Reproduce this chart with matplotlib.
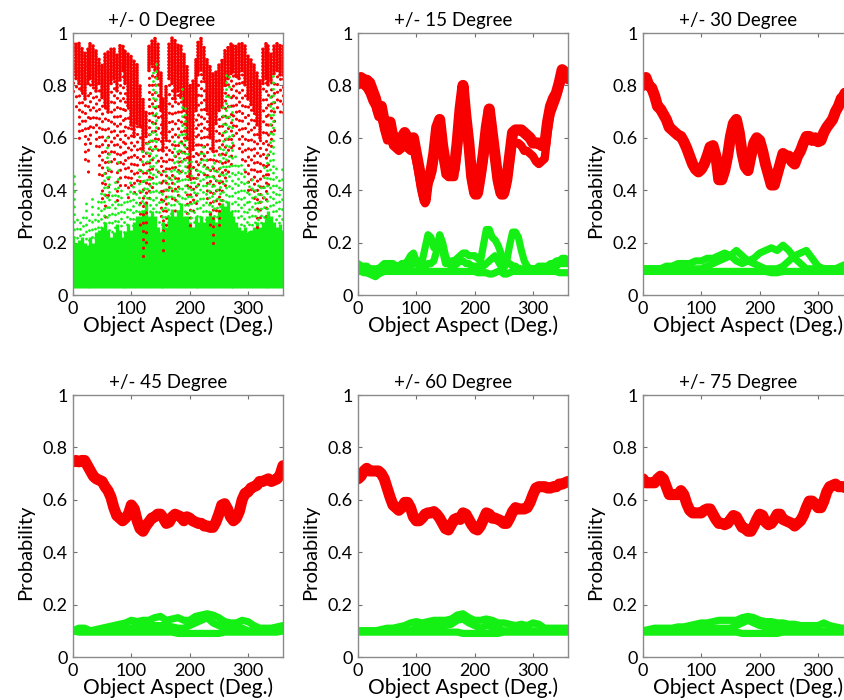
import numpy as np
import matplotlib
matplotlib.use("Agg")
import matplotlib.pyplot as plt

plt.rcParams['font.family'] = ['Lato', 'DejaVu Sans']

# aspect grids (degrees)
deg5 = np.arange(0, 361, 5)
deg10 = np.arange(0, 361, 10)

titles = ['+/- 0 Degree', '+/- 15 Degree', '+/- 30 Degree',
          '+/- 45 Degree', '+/- 60 Degree', '+/- 75 Degree']

# ---- +/- 0 degree: scattered trials, read as column extents every 5 deg ----
p0_red_top = [0.96, 0.97, 0.96, 0.95, 0.93, 0.95, 0.96, 0.95, 0.94, 0.90, 0.88, 0.92, 0.93,
              0.95, 0.94, 0.92, 0.96, 0.95, 0.94, 0.93, 0.92, 0.90, 0.88, 0.80, 0.75, 0.70,
              0.95, 0.98, 0.98, 0.96, 0.85, 0.75, 0.80, 0.97, 0.98, 0.98, 0.96, 0.95, 0.92,
              0.88, 0.80, 0.82, 0.90, 0.97, 0.98, 0.95, 0.90, 0.88, 0.85, 0.86, 0.88, 0.90,
              0.94, 0.95, 0.96, 0.96, 0.95, 0.96, 0.96, 0.95, 0.92, 0.90, 0.88, 0.85, 0.82,
              0.95, 0.96, 0.95, 0.92, 0.95, 0.96, 0.96, 0.95]
p0_red_dense = [0.84, 0.82, 0.80, 0.78, 0.75, 0.80, 0.82, 0.80, 0.78, 0.80, 0.75, 0.72, 0.70,
                0.80, 0.82, 0.78, 0.82, 0.85, 0.80, 0.72, 0.65, 0.60, 0.65, 0.65, 0.55, 0.60,
                0.85, 0.88, 0.86, 0.82, 0.70, 0.55, 0.60, 0.82, 0.80, 0.75, 0.78, 0.75, 0.70,
                0.60, 0.45, 0.55, 0.70, 0.84, 0.86, 0.82, 0.70, 0.60, 0.55, 0.65, 0.70, 0.72,
                0.80, 0.82, 0.84, 0.85, 0.84, 0.82, 0.85, 0.80, 0.75, 0.72, 0.70, 0.65, 0.60,
                0.80, 0.82, 0.80, 0.82, 0.84, 0.85, 0.84, 0.84]
p0_red_low = [0.78, 0.70, 0.58, 0.62, 0.50, 0.45, 0.58, 0.62, 0.55, 0.45, 0.35, 0.28, 0.38,
              0.45, 0.50, 0.35, 0.40, 0.48, 0.42, 0.35, 0.40, 0.38, 0.42, 0.25, 0.15, 0.18,
              0.35, 0.40, 0.55, 0.45, 0.30, 0.15, 0.25, 0.40, 0.35, 0.30, 0.38, 0.45, 0.50,
              0.30, 0.25, 0.30, 0.35, 0.40, 0.50, 0.45, 0.35, 0.25, 0.20, 0.30, 0.25, 0.35,
              0.40, 0.45, 0.50, 0.55, 0.60, 0.55, 0.50, 0.45, 0.40, 0.38, 0.35, 0.25, 0.28,
              0.35, 0.30, 0.40, 0.55, 0.62, 0.70, 0.68, 0.70]
p0_green_floor = 0.025
p0_green_top = [0.22, 0.20, 0.21, 0.22, 0.20, 0.19, 0.22, 0.20, 0.24, 0.25, 0.26, 0.28, 0.25,
                0.22, 0.24, 0.27, 0.25, 0.22, 0.24, 0.27, 0.25, 0.28, 0.30, 0.30, 0.32, 0.35,
                0.30, 0.32, 0.30, 0.26, 0.24, 0.28, 0.26, 0.30, 0.33, 0.30, 0.32, 0.35, 0.30,
                0.30, 0.28, 0.26, 0.30, 0.28, 0.30, 0.28, 0.30, 0.32, 0.30, 0.28, 0.32, 0.35,
                0.34, 0.36, 0.32, 0.30, 0.28, 0.26, 0.25, 0.26, 0.24, 0.25, 0.26, 0.28, 0.26,
                0.28, 0.30, 0.32, 0.30, 0.28, 0.26, 0.27, 0.25]
p0_green_spike = [0.48, 0.30, 0.28, 0.32, 0.35, 0.30, 0.38, 0.30, 0.36, 0.40, 0.48, 0.62, 0.55,
                  0.40, 0.45, 0.52, 0.42, 0.38, 0.40, 0.45, 0.42, 0.40, 0.48, 0.55, 0.45, 0.60,
                  0.62, 0.86, 0.90, 0.50, 0.40, 0.48, 0.45, 0.50, 0.60, 0.55, 0.62, 0.80, 0.72,
                  0.55, 0.52, 0.45, 0.48, 0.55, 0.58, 0.52, 0.50, 0.52, 0.55, 0.50, 0.58, 0.72,
                  0.84, 0.86, 0.70, 0.55, 0.50, 0.52, 0.48, 0.45, 0.42, 0.45, 0.40, 0.45, 0.42,
                  0.50, 0.55, 0.78, 0.84, 0.50, 0.45, 0.48, 0.40]

# ---- +/- 15 degree ----
p15_red = [0.815, 0.83, 0.82, 0.82, 0.81, 0.78, 0.75, 0.70, 0.72, 0.66, 0.62, 0.66, 0.60,
           0.60, 0.59, 0.60, 0.62, 0.60, 0.58, 0.60, 0.54, 0.48, 0.41, 0.36, 0.45, 0.47,
           0.54, 0.64, 0.67, 0.57, 0.50, 0.49, 0.48, 0.48, 0.58, 0.71, 0.80, 0.68, 0.58,
           0.45, 0.39, 0.39, 0.46, 0.54, 0.64, 0.71, 0.62, 0.53, 0.44, 0.39, 0.39, 0.44,
           0.53, 0.62, 0.63, 0.63, 0.63, 0.62, 0.61, 0.60, 0.58, 0.58, 0.58, 0.57, 0.57,
           0.66, 0.72, 0.75, 0.77, 0.81, 0.86, 0.85, 0.84]
p15_red2 = [0.80, 0.81, 0.80, 0.79, 0.77, 0.74, 0.72, 0.68, 0.68, 0.63, 0.59, 0.62, 0.57,
            0.56, 0.55, 0.56, 0.57, 0.56, 0.55, 0.56, 0.51, 0.45, 0.39, 0.35, 0.42, 0.45,
            0.51, 0.60, 0.63, 0.53, 0.46, 0.45, 0.45, 0.45, 0.54, 0.67, 0.76, 0.66, 0.55,
            0.43, 0.38, 0.38, 0.44, 0.51, 0.61, 0.68, 0.60, 0.51, 0.42, 0.38, 0.38, 0.42,
            0.50, 0.58, 0.58, 0.58, 0.57, 0.55, 0.55, 0.54, 0.53, 0.51, 0.50, 0.51, 0.52,
            0.62, 0.69, 0.72, 0.75, 0.79, 0.83, 0.83, 0.82]
p15_g1 = [0.09, 0.09, 0.085, 0.085, 0.08, 0.075, 0.07, 0.08, 0.085, 0.09, 0.09, 0.09, 0.09,
          0.09, 0.09, 0.09, 0.09, 0.09, 0.09, 0.09, 0.09, 0.09, 0.09, 0.09, 0.09, 0.09,
          0.09, 0.09, 0.09, 0.09, 0.09, 0.09, 0.09, 0.09, 0.09, 0.09, 0.09, 0.09, 0.09,
          0.09, 0.09, 0.085, 0.085, 0.085, 0.085, 0.08, 0.08, 0.085, 0.09, 0.09, 0.08, 0.08,
          0.085, 0.09, 0.09, 0.09, 0.09, 0.09, 0.09, 0.09, 0.09, 0.09, 0.09, 0.09, 0.09,
          0.09, 0.09, 0.09, 0.09, 0.085, 0.085, 0.085, 0.085]
p15_g2 = [0.12, 0.11, 0.11, 0.11, 0.10, 0.10, 0.10, 0.10, 0.11, 0.12, 0.12, 0.12, 0.12,
          0.11, 0.11, 0.12, 0.12, 0.13, 0.15, 0.16, 0.13, 0.12, 0.13, 0.18, 0.23, 0.22,
          0.18, 0.19, 0.22, 0.17, 0.12, 0.12, 0.13, 0.13, 0.14, 0.15, 0.16, 0.16, 0.15,
          0.15, 0.15, 0.14, 0.13, 0.19, 0.25, 0.25, 0.22, 0.21, 0.19, 0.16, 0.13, 0.12,
          0.12, 0.11, 0.11, 0.10, 0.10, 0.10, 0.10, 0.10, 0.10, 0.10, 0.10, 0.10, 0.10,
          0.11, 0.12, 0.12, 0.13, 0.13, 0.14, 0.14, 0.13]
p15_g3 = [0.10, 0.10, 0.10, 0.10, 0.10, 0.09, 0.09, 0.09, 0.10, 0.10, 0.10, 0.11, 0.11,
          0.11, 0.10, 0.10, 0.10, 0.10, 0.11, 0.12, 0.12, 0.11, 0.11, 0.11, 0.12, 0.12,
          0.13, 0.17, 0.23, 0.20, 0.15, 0.12, 0.11, 0.11, 0.12, 0.13, 0.13, 0.12, 0.12,
          0.11, 0.11, 0.11, 0.11, 0.11, 0.12, 0.13, 0.14, 0.15, 0.13, 0.11, 0.10, 0.13,
          0.19, 0.24, 0.24, 0.22, 0.17, 0.13, 0.11, 0.10, 0.10, 0.10, 0.11, 0.11, 0.11,
          0.11, 0.11, 0.11, 0.11, 0.12, 0.12, 0.12, 0.12]

# ---- +/- 30 degree ----
p30_red = [0.80, 0.83, 0.80, 0.79, 0.76, 0.72, 0.71, 0.69, 0.67, 0.64, 0.63, 0.62, 0.61,
           0.605, 0.585, 0.56, 0.53, 0.50, 0.48, 0.47, 0.48, 0.50, 0.53, 0.565, 0.57, 0.53,
           0.44, 0.44, 0.475, 0.53, 0.605, 0.655, 0.67, 0.62, 0.54, 0.49, 0.475, 0.53, 0.58,
           0.60, 0.59, 0.55, 0.50, 0.46, 0.42, 0.42, 0.46, 0.50, 0.54, 0.53, 0.53, 0.51,
           0.50, 0.53, 0.55, 0.58, 0.605, 0.605, 0.59, 0.60, 0.585, 0.59, 0.62, 0.64, 0.655,
           0.67, 0.70, 0.72, 0.75, 0.76, 0.80, 0.81, 0.82]
p30_g1 = [0.09, 0.09, 0.09, 0.09, 0.09, 0.09, 0.09, 0.09, 0.09, 0.09, 0.09, 0.09, 0.09,
          0.09, 0.09, 0.09, 0.09, 0.09, 0.09, 0.09, 0.09, 0.09, 0.085, 0.085, 0.09, 0.09,
          0.09, 0.09, 0.09, 0.09, 0.09, 0.09, 0.09, 0.09, 0.09, 0.09, 0.09]
p30_g2 = [0.10, 0.10, 0.10, 0.10, 0.11, 0.11, 0.12, 0.12, 0.12, 0.13, 0.13, 0.14, 0.14,
          0.15, 0.16, 0.15, 0.17, 0.15, 0.13, 0.12, 0.11, 0.10, 0.10, 0.10, 0.11, 0.13,
          0.15, 0.16, 0.17, 0.14, 0.11, 0.10, 0.10, 0.10, 0.11, 0.12, 0.12]
p30_g3 = [0.10, 0.10, 0.10, 0.10, 0.10, 0.10, 0.10, 0.10, 0.10, 0.10, 0.10, 0.11, 0.12,
          0.13, 0.14, 0.15, 0.13, 0.12, 0.13, 0.14, 0.16, 0.17, 0.18, 0.17, 0.19, 0.17,
          0.14, 0.12, 0.10, 0.10, 0.10, 0.10, 0.10, 0.10, 0.10, 0.11, 0.11]

# ---- +/- 45 degree ----
p45_red = [0.745, 0.75, 0.745, 0.75, 0.75, 0.73, 0.71, 0.69, 0.68, 0.675, 0.67, 0.65, 0.635,
           0.61, 0.57, 0.54, 0.53, 0.52, 0.53, 0.545, 0.58, 0.565, 0.52, 0.49, 0.48, 0.50,
           0.515, 0.53, 0.535, 0.545, 0.545, 0.53, 0.51, 0.515, 0.535, 0.545, 0.54, 0.535, 0.52,
           0.535, 0.53, 0.52, 0.515, 0.51, 0.51, 0.50, 0.50, 0.495, 0.495, 0.515, 0.545, 0.58,
           0.585, 0.565, 0.535, 0.52, 0.53, 0.555, 0.60, 0.625, 0.63, 0.645, 0.65, 0.655, 0.67,
           0.67, 0.675, 0.68, 0.67, 0.675, 0.68, 0.695, 0.73]
p45_g1 = [0.10, 0.095, 0.095, 0.095, 0.095, 0.095, 0.095, 0.095, 0.095, 0.095, 0.095, 0.095,
          0.095, 0.095, 0.095, 0.095, 0.095, 0.095, 0.09, 0.09, 0.09, 0.09, 0.09, 0.09, 0.09,
          0.09, 0.095, 0.095, 0.095, 0.095, 0.095, 0.095, 0.095, 0.095, 0.095, 0.095, 0.10]
p45_g2 = [0.10, 0.11, 0.11, 0.10, 0.105, 0.11, 0.115, 0.12, 0.125, 0.13, 0.14, 0.135, 0.14,
          0.14, 0.15, 0.155, 0.14, 0.145, 0.15, 0.14, 0.14, 0.155, 0.16, 0.165, 0.16, 0.15,
          0.135, 0.13, 0.13, 0.14, 0.135, 0.12, 0.11, 0.11, 0.11, 0.115, 0.12]
p45_g3 = [0.10, 0.10, 0.10, 0.10, 0.10, 0.10, 0.10, 0.10, 0.10, 0.105, 0.11, 0.12, 0.12,
          0.12, 0.12, 0.12, 0.12, 0.115, 0.11, 0.11, 0.12, 0.13, 0.14, 0.15, 0.13, 0.12,
          0.11, 0.115, 0.12, 0.11, 0.10, 0.10, 0.10, 0.10, 0.10, 0.10, 0.10]

# ---- +/- 60 degree ----
p60_red = [0.68, 0.69, 0.71, 0.72, 0.71, 0.71, 0.71, 0.71, 0.70, 0.68, 0.645, 0.61, 0.58,
           0.57, 0.56, 0.57, 0.59, 0.59, 0.57, 0.535, 0.52, 0.52, 0.53, 0.545, 0.55, 0.55,
           0.555, 0.545, 0.53, 0.51, 0.49, 0.485, 0.505, 0.525, 0.53, 0.525, 0.55, 0.545, 0.525,
           0.505, 0.49, 0.485, 0.50, 0.525, 0.55, 0.545, 0.53, 0.53, 0.525, 0.52, 0.51, 0.51,
           0.53, 0.555, 0.57, 0.565, 0.565, 0.565, 0.57, 0.59, 0.62, 0.645, 0.65, 0.65, 0.65,
           0.645, 0.645, 0.65, 0.65, 0.66, 0.66, 0.665, 0.67]
p60_g1 = [0.095, 0.095, 0.095, 0.095, 0.095, 0.095, 0.095, 0.095, 0.095, 0.095, 0.095, 0.095,
          0.095, 0.095, 0.095, 0.095, 0.095, 0.095, 0.09, 0.09, 0.09, 0.09, 0.09, 0.09, 0.09,
          0.095, 0.095, 0.095, 0.095, 0.095, 0.095, 0.095, 0.095, 0.095, 0.095, 0.095, 0.095]
p60_g2 = [0.10, 0.10, 0.10, 0.10, 0.105, 0.11, 0.11, 0.115, 0.12, 0.13, 0.135, 0.13, 0.135,
          0.14, 0.14, 0.14, 0.145, 0.16, 0.165, 0.15, 0.14, 0.14, 0.145, 0.14, 0.13, 0.13,
          0.125, 0.12, 0.125, 0.12, 0.13, 0.125, 0.11, 0.11, 0.11, 0.11, 0.11]
p60_g3 = [0.10, 0.10, 0.10, 0.10, 0.10, 0.10, 0.10, 0.10, 0.10, 0.10, 0.11, 0.115, 0.115,
          0.115, 0.12, 0.12, 0.125, 0.14, 0.145, 0.13, 0.12, 0.11, 0.12, 0.115, 0.11, 0.10,
          0.10, 0.10, 0.10, 0.10, 0.10, 0.10, 0.10, 0.10, 0.10, 0.10, 0.10]

# ---- +/- 75 degree ----
p75_red = [0.68, 0.665, 0.665, 0.665, 0.665, 0.68, 0.69, 0.68, 0.65, 0.62, 0.62, 0.62, 0.62,
           0.635, 0.62, 0.585, 0.56, 0.55, 0.55, 0.55, 0.55, 0.56, 0.565, 0.565, 0.545, 0.525,
           0.51, 0.51, 0.505, 0.51, 0.525, 0.54, 0.535, 0.515, 0.495, 0.49, 0.48, 0.48, 0.50,
           0.525, 0.545, 0.54, 0.515, 0.505, 0.51, 0.525, 0.545, 0.545, 0.525, 0.52, 0.515, 0.51,
           0.50, 0.51, 0.52, 0.54, 0.57, 0.595, 0.595, 0.585, 0.57, 0.57, 0.595, 0.63, 0.65,
           0.655, 0.66, 0.65, 0.65, 0.65, 0.64, 0.64, 0.64]
p75_g1 = [0.095, 0.095, 0.095, 0.095, 0.095, 0.095, 0.095, 0.095, 0.095, 0.095, 0.095, 0.095,
          0.095, 0.095, 0.095, 0.095, 0.095, 0.09, 0.09, 0.09, 0.09, 0.09, 0.09, 0.09, 0.095,
          0.095, 0.095, 0.095, 0.095, 0.095, 0.095, 0.095, 0.095, 0.095, 0.095, 0.095, 0.095]
p75_g2 = [0.10, 0.105, 0.11, 0.11, 0.11, 0.11, 0.115, 0.115, 0.12, 0.125, 0.13, 0.13, 0.135,
          0.14, 0.14, 0.14, 0.14, 0.15, 0.155, 0.15, 0.14, 0.135, 0.135, 0.13, 0.13, 0.125,
          0.125, 0.12, 0.12, 0.12, 0.12, 0.13, 0.12, 0.115, 0.11, 0.11, 0.11]
p75_g3 = [0.10, 0.10, 0.10, 0.10, 0.10, 0.10, 0.10, 0.10, 0.10, 0.10, 0.105, 0.11, 0.11,
          0.11, 0.11, 0.11, 0.12, 0.13, 0.14, 0.13, 0.12, 0.115, 0.11, 0.11, 0.105, 0.10,
          0.10, 0.10, 0.10, 0.10, 0.10, 0.10, 0.10, 0.10, 0.10, 0.10, 0.10]

band_panels = [
    (p15_red, [p15_g1, p15_g2, p15_g3], deg5),
    (p30_red, [p30_g1, p30_g2, p30_g3], deg10),
    (p45_red, [p45_g1, p45_g2, p45_g3], deg10),
    (p60_red, [p60_g1, p60_g2, p60_g3], deg10),
    (p75_red, [p75_g1, p75_g2, p75_g3], deg10),
]

RED = '#f80000'
GREEN = '#14f014'

fig = plt.figure(figsize=(8.45, 7.0), dpi=100)

# axes boxes in pixels (left, top) of the reference, 845x700
lefts = [73, 358, 643]
tops = [33, 395]
w_px, h_px = 210, 262

axes = []
for r in range(2):
    for c in range(3):
        ax = fig.add_axes([lefts[c] / 845, 1 - (tops[r] + h_px) / 700, w_px / 845, h_px / 700])
        axes.append(ax)


def style_axes(ax, title, title_x=0.452):
    ax.set_xlim(0, 360)
    ax.set_ylim(0, 1)
    ax.set_xticks([0, 100, 200, 300])
    ax.set_yticks([0, 0.2, 0.4, 0.6, 0.8, 1])
    ax.set_yticklabels(['0', '0.2', '0.4', '0.6', '0.8', '1'])
    ax.tick_params(direction='in', top=True, right=True, length=3, width=0.8,
                   color='#707070', labelsize=13, pad=4)
    for s in ax.spines.values():
        s.set_color('#8a8a8a')
        s.set_linewidth(1.0)
    # titles and y labels sit a bit off-centre in the reference
    ax.set_title(title, fontsize=13.5, pad=5, x=title_x)
    ax.set_xlabel('Object Aspect (Deg.)', fontsize=15, labelpad=-1)
    ax.set_ylabel('Probability', fontsize=14.5, labelpad=6, y=0.40)


# panel 1: dotted columns, offsets vary so the dots do not line up in rows
ax = axes[0]
dots_dense = [(0.0, (0.01, 0.75)), (0.5, (0.01, 0.9)), (0.3, (0.01, 0.7)), (0.8, (0.01, 0.85))]
dots_sparse = [(0.0, (0.01, 2.6)), (1.3, (0.01, 3.1)), (0.6, (0.01, 2.2)),
               (2.0, (0.01, 2.9)), (0.9, (0.01, 2.4)), (1.7, (0.01, 3.4))]
ax.vlines(deg5, p0_green_floor, p0_green_top, colors=GREEN, linewidth=2.4)
ax.vlines(deg5, p0_red_low, p0_red_dense, colors=RED, linewidth=2.3,
          linestyles=dots_sparse, capstyle='round')
ax.vlines(deg5, p0_red_dense, p0_red_top, colors=RED, linewidth=2.7,
          linestyles=dots_dense, capstyle='round')
ax.vlines(deg5 + 2.5, p0_green_top, p0_green_spike, colors=GREEN, linewidth=2.1,
          linestyles=dots_sparse, capstyle='round')
style_axes(ax, titles[0], title_x=0.42)

# panels 2-6: thick bands
for i, (red, greens, gx) in enumerate(band_panels):
    ax = axes[i + 1]
    for g in greens:
        ax.plot(gx, g, color=GREEN, linewidth=5.2, solid_capstyle='round',
                solid_joinstyle='round')
    if i == 0:
        ax.plot(deg5, p15_red2, color=RED, linewidth=6, solid_capstyle='round',
                solid_joinstyle='round')
    ax.plot(deg5, red, color=RED, linewidth=8, solid_capstyle='round',
            solid_joinstyle='round')
    style_axes(ax, titles[i + 1])

fig.savefig('out.png', dpi=100)
